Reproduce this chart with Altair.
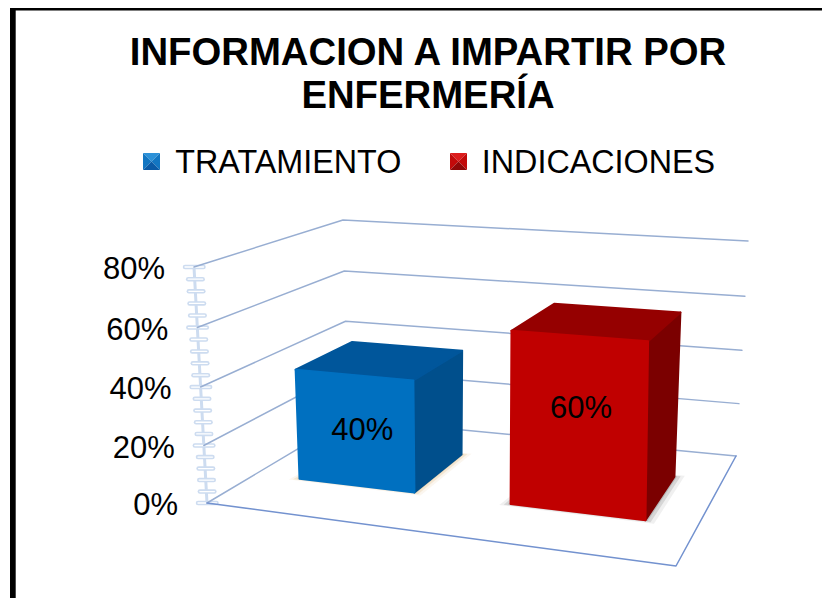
import altair as alt
import numpy as np

TITLE_LINES = ["INFORMACION A IMPARTIR POR", "ENFERMERÍA"]
CATEGORIES = ["TRATAMIENTO", "INDICACIONES"]
VALUES = [40, 60]
VALUE_LABELS = ["40%", "60%"]
AXIS_TICKS = [0, 20, 40, 60, 80]
AXIS_LABELS = ["0%", "20%", "40%", "60%", "80%"]
MINOR_TICKS = [4, 8, 12, 16, 24, 28, 32, 36, 44, 48, 52, 56, 64, 68, 72, 76]

FRONT = ["#0070c0", "#c00000"]
TOP = ["#00569b", "#950000"]
SIDE = ["#004f8c", "#7b0000"]
SHADOW = ["#d9a860", "#6f6f6f"]
KEY_SHADES = [["#2c91d8", "#1276c2", "#0a5aa6"], ["#dc1c1c", "#c20a0a", "#8e0808"]]
GRID = "#98aed2"
FLOOR = "#7392cf"
AXIS = "#cddcf0"
FONT = "Liberation Sans"
T = 120

# 3D view of the chart box: (left/right, front/back) corners on the 0% and 80% planes
FLOOR_Q = [(207, 503), (676, 566), (736, 456), (348, 419)]
TOP_Q = [(194, 267), (676, 300), (748, 241), (343, 220)]


def homography(q):
    A, b = [], []
    for (u, d), (x, y) in zip([(0, 0), (1, 0), (1, 1), (0, 1)], q):
        A.append([u, d, 1, 0, 0, 0, -u * x, -d * x]); b.append(x)
        A.append([0, 0, 0, u, d, 1, -u * y, -d * y]); b.append(y)
    h = np.linalg.solve(np.array(A, float), np.array(b, float))
    return np.append(h, 1).reshape(3, 3)


HF, HT = homography(FLOOR_Q), homography(TOP_Q)


def plane(H, u, d):
    p = H @ np.array([u, d, 1.0])
    return p[:2] / p[2]


def P(u, d, v):
    a, b = plane(HF, u, d), plane(HT, u, d)
    s = v / 80
    t = s / (1 + 0.035 * (1 - s))  # perspective foreshortening along the value axis
    return [float(c) for c in a + t * (b - a)]


def poly(pts, **props):
    return {"type": "Feature", "properties": props,
            "geometry": {"type": "Polygon", "coordinates": [pts + [pts[0]]]}}


def line(pts, **props):
    return {"type": "Feature", "properties": props,
            "geometry": {"type": "LineString", "coordinates": pts}}


PROJ = dict(type="identity", scale=1, translate=[-8, -8 - T])


def geo(features, **mark):
    return alt.Chart(alt.Data(values=features)).mark_geoshape(clip=False, **mark).project(**PROJ)


def lines(features, color, width):
    return geo(features, filled=False, stroke=color, strokeWidth=width, strokeCap="round", strokeJoin="round")


def text(rows, **mark):
    return alt.Chart(alt.Data(values=rows)).mark_text(font=FONT, color="black", **mark).encode(
        longitude="lon:Q", latitude="lat:Q", text="label:N").project(**PROJ)


layers = []

# frame of the page
layers.append(geo([poly([[10, 7], [15.7, 7], [15.7, 598], [10, 598]]),
                   poly([[10, 7], [830, 7], [830, 10.4], [10, 10.4]])], fill="black", stroke=None))

# value axis
axis_line = line([P(0, 0, 0), P(0, 0, 80)])
major = [line([[P(0, 0, v)[0] - 9, P(0, 0, v)[1]], [P(0, 0, v)[0] + 9.5, P(0, 0, v)[1]]]) for v in AXIS_TICKS]
minor = [line([[P(0, 0, v)[0] - 6.5, P(0, 0, v)[1]], [P(0, 0, v)[0] + 8, P(0, 0, v)[1]]]) for v in MINOR_TICKS]
layers.append(lines([axis_line], AXIS, 3))
layers.append(lines(major + minor, AXIS, 4.5))
layers.append(lines(major + minor, "#ffffff", 1.3))

# walls and floor
grid = [line([P(0, 0, v), P(0, 1, v), P(1, 1, v)]) for v in AXIS_TICKS]
layers.append(lines(grid, GRID, 1.5))
layers.append(lines([line([P(0, 0, 0), P(1, 0, 0), P(1, 1, 0)])], FLOOR, 1.5))

# bars
W, D0, D1 = 0.283, 0.305, 0.72
CENTERS = [0.254, 0.756]
BEVEL = 0.985
fronts = []
for i, (cat, value) in enumerate(zip(CATEGORIES, VALUES)):
    val = value * BEVEL
    u0, u1 = CENTERS[i] - W / 2, CENTERS[i] + W / 2
    for grow, alpha in [(0.02, 0.1), (0.012, 0.2), (0.005, 0.3)]:
        shadow = [P(u0 - grow, D0 - grow, 0), P(u1 + grow, D0 - grow, 0), P(u1 + grow, D1 + grow, 0), P(u0, D1, 0)]
        layers.append(geo([poly(shadow)], fill=SHADOW[i], stroke=None, opacity=alpha))
    side = [P(u1, D0, 0), P(u1, D1, 0), P(u1, D1, val), P(u1, D0, val)]
    top = [P(u0, D0, val), P(u1, D0, val), P(u1, D1, val), P(u0, D1, val)]
    face = [P(u0, D0, 0), P(u1, D0, 0), P(u1, D0, val), P(u0, D0, val)]
    layers.append(geo([poly(side)], fill=SIDE[i], stroke=SIDE[i], strokeWidth=2, strokeJoin="round"))
    layers.append(geo([poly(top)], fill=TOP[i], stroke=TOP[i], strokeWidth=2, strokeJoin="round"))
    layers.append(geo([poly(face)], fill=FRONT[i], stroke=FRONT[i], strokeWidth=2, strokeJoin="round"))
    fronts.append(poly(face, category=cat))

layers.append(geo(fronts, strokeWidth=0).encode(
    color=alt.Color("properties.category:N",
                    scale=alt.Scale(domain=CATEGORIES, range=FRONT),
                    legend=alt.Legend(title=None, orient="none", direction="horizontal",
                                      legendX=127, legendY=19, symbolType="square", symbolSize=289,
                                      symbolStrokeWidth=0, symbolOpacity=0, labelFont=FONT, labelFontSize=32.3,
                                      labelColor="black", labelOffset=8, columnPadding=39.5,
                                      labelLimit=400))))

# facets on the legend keys
for x0, shades in zip([143, 450], KEY_SHADES):
    x1, y0, y1 = x0 + 17, 153, 170
    cx, cy = x0 + 8.5, y0 + 8.5
    layers.append(geo([poly([[x0, y0], [x1, y0], [cx, cy]])], fill=shades[0], stroke=None))
    layers.append(geo([poly([[x0, y0], [cx, cy], [x0, y1]]), poly([[x1, y0], [cx, cy], [x1, y1]])],
                      fill=shades[1], stroke=None))
    layers.append(geo([poly([[x0, y1], [cx, cy], [x1, y1]])], fill=shades[2], stroke=None))

# labels
axis_rows = [{"lon": P(0, 0, v)[0] - 29, "lat": P(0, 0, v)[1] + 3, "label": s}
             for v, s in zip(AXIS_TICKS, AXIS_LABELS)]
layers.append(text(axis_rows, fontSize=31, align="right", baseline="middle"))

LABEL_U = [0.273, 0.763]
LABEL_V = [20, 35.2]
value_rows = [{"lon": P(u, D0, z)[0], "lat": P(u, D0, z)[1], "label": s}
              for u, z, s in zip(LABEL_U, LABEL_V, VALUE_LABELS)]
layers.append(text(value_rows, fontSize=31, align="center", baseline="middle"))

chart = alt.layer(*layers).properties(
    width=814, height=590 - T, padding={"left": 0, "top": T, "right": 0, "bottom": 0},
    autosize=alt.AutoSizeParams(type="none"),
    background="white",
    title=alt.TitleParams(text=TITLE_LINES, font=FONT, fontSize=38.3, fontWeight="bold", color="black",
                          anchor="middle", frame="group", dx=13, dy=122, offset=12.5, lineHeight=43),
).configure_view(stroke=None)

chart.save("out.html", embed_options={"renderer": "svg", "actions": False})
